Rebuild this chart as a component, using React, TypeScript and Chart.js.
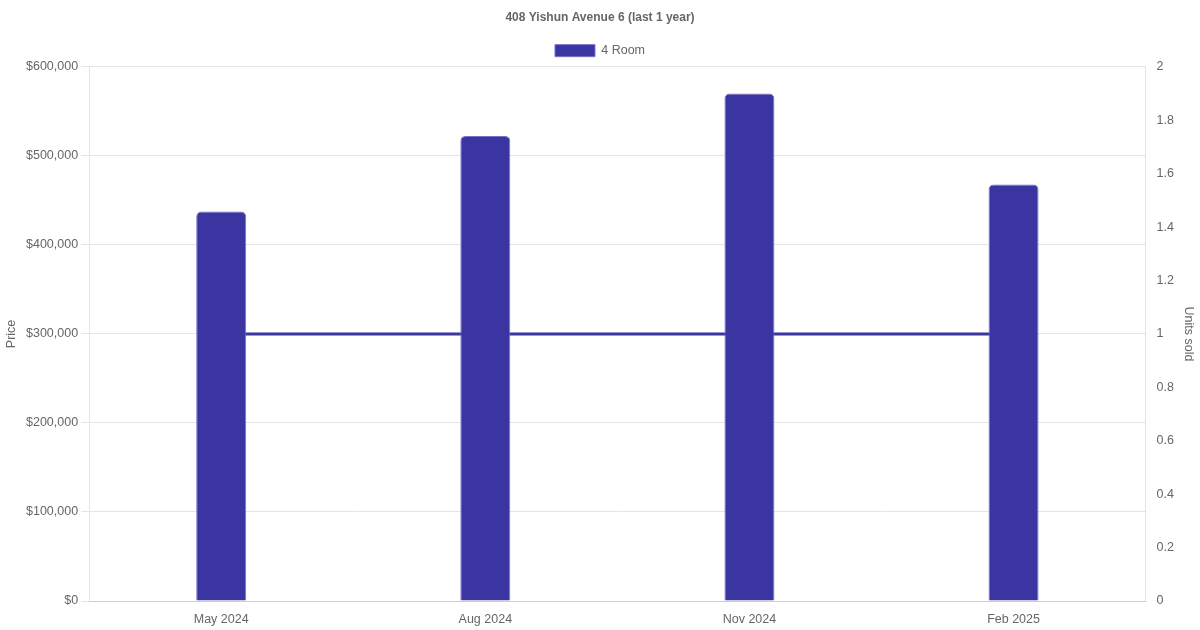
import React, { useEffect, useRef } from "react";
import { Chart, registerables } from "chart.js";

Chart.register(...registerables);

const categories = ["May 2024", "Aug 2024", "Nov 2024", "Feb 2025"];
const priceValues = [437500, 522500, 570000, 468000];
const unitsSold = [1, 1, 1, 1];
const seriesName = "4 Room";
const titleText = "408 Yishun Avenue 6 (last 1 year)";

export default function App() {
  const ref = useRef<HTMLCanvasElement | null>(null);
  useEffect(() => {
    document.body.style.margin = "0";
    if (!ref.current) return;
    Chart.defaults.font.family = "'Liberation Sans', Arial, Helvetica, sans-serif";
    Chart.defaults.color = "#666";
    const chart = new Chart(ref.current, {
      type: "bar",
      data: {
        labels: categories,
        datasets: [
          {
            type: "bar",
            label: seriesName,
            data: priceValues,
            backgroundColor: "#3a35a0",
            borderColor: "#7571c8",
            borderWidth: 1,
            borderRadius: 5,
            borderSkipped: "bottom",
            maxBarThickness: 50,
            yAxisID: "y",
            order: 1,
          },
          {
            type: "line",
            label: "Units sold",
            data: unitsSold,
            borderColor: "#3a35a0",
            backgroundColor: "#3a35a0",
            borderWidth: 3,
            pointRadius: 0,
            fill: false,
            yAxisID: "y1",
            order: 2,
          },
        ],
      },
      options: {
        animation: false,
        responsive: true,
        maintainAspectRatio: false,
        plugins: {
          title: {
            display: true,
            text: titleText,
            font: { size: 12, weight: "bold" },
            color: "#666",
            padding: { top: 10, bottom: 10 },
          },
          legend: {
            labels: {
              filter: (item) => item.text === seriesName,
              boxWidth: 40,
              boxHeight: 12,
              font: { size: 12.5 },
              color: "#666",
            },
          },
          tooltip: { enabled: false },
        },
        scales: {
          x: {
            grid: { display: false },
            ticks: { font: { size: 12.5 } },
          },
          y: {
            position: "left",
            min: 0,
            max: 600000,
            ticks: {
              stepSize: 100000,
              font: { size: 12.5 },
              callback: (v) => "$" + Number(v).toLocaleString("en-US"),
            },
            title: { display: true, text: "Price", font: { size: 12.5 } },
            grid: { color: "#e5e5e5" },
          },
          y1: {
            position: "right",
            min: 0,
            max: 2,
            ticks: {
              stepSize: 0.2,
              font: { size: 12.5 },
              callback: (v) => String(Math.round(Number(v) * 10) / 10),
            },
            title: { display: true, text: "Units sold", font: { size: 12.5 } },
            grid: { display: false },
          },
        },
      },
    });
    return () => chart.destroy();
  }, []);
  return (
    <div style={{ width: 1200, height: 630, position: "relative" }}>
      <canvas ref={ref} />
    </div>
  );
}
